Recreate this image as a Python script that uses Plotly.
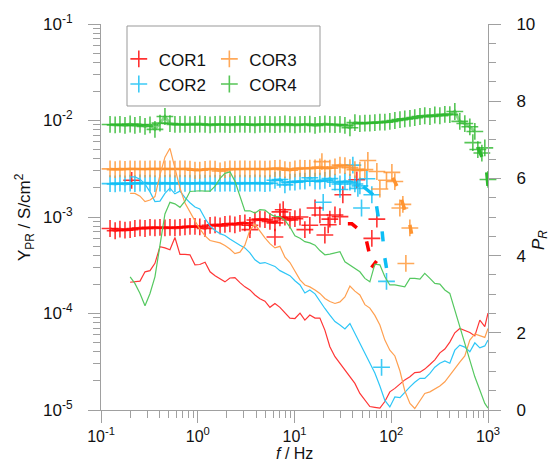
import plotly.graph_objects as go

# Frequency grid (Hz) shared by the measurements
FREQ = [0.124, 0.140, 0.157, 0.177, 0.200, 0.224, 0.253, 0.285, 0.321, 0.361,
        0.407, 0.458, 0.516, 0.581, 0.655, 0.738, 0.831, 0.936, 1.05, 1.19,
        1.34, 1.51, 1.70, 1.91, 2.15, 2.42, 2.73, 3.07, 3.46, 3.90,
        4.39, 4.95, 5.57, 6.28, 7.07, 7.96, 8.97, 10.1, 11.4, 12.8,
        14.4, 16.3, 18.3, 20.6, 23.2, 26.2, 29.5, 33.2, 37.4, 42.1,
        47.4, 53.4, 60.1, 67.7, 76.3, 85.9, 96.7, 109, 123, 138,
        156, 175, 198, 222, 251, 282, 318, 358, 403, 454,
        511, 576, 649, 731, 823, 927, 1000]
FREQ_P = FREQ[4:]  # P_R spectra start at 0.2 Hz

# ---- Y_PR (S/cm2), main runs on the grid ----
COR1_Y = [7.6e-4, 7.2e-4, 7.5e-4, 7.3e-4, 7.4e-4, 7.6e-4, 7.7e-4, 7.6e-4, 7.8e-4, 7.7e-4,
          7.8e-4, 7.7e-4, 7.8e-4, 7.7e-4, 7.8e-4, 7.9e-4, 8.0e-4, 8.0e-4, 7.9e-4, 7.6e-4,
          8.2e-4, 8.3e-4, 8.1e-4, 8.4e-4, 8.5e-4, 8.3e-4, 8.6e-4, 8.7e-4, 8.2e-4, 9.3e-4,
          9.5e-4, 9.4e-4, 9.0e-4, 8.7e-4, 9.8e-4, 1.0e-3, 9.3e-4, 9.6e-4, 1.0e-3]
COR2_Y = [2.22e-3, 2.20e-3, 2.24e-3, 2.20e-3, 2.24e-3, 2.22e-3, 2.25e-3, 2.23e-3, 2.24e-3, 2.22e-3,
          2.24e-3, 2.23e-3, 2.25e-3, 2.22e-3, 2.24e-3, 2.23e-3, 2.24e-3, 2.22e-3, 2.25e-3, 2.24e-3,
          2.22e-3, 2.24e-3, 2.23e-3, 2.24e-3, 2.25e-3, 2.22e-3, 2.24e-3, 2.24e-3, 2.23e-3, 2.25e-3,
          2.24e-3, 2.22e-3, 2.24e-3, 2.40e-3, 2.45e-3, 2.15e-3, 2.30e-3, 2.30e-3, 2.35e-3, 2.35e-3,
          2.55e-3, 2.35e-3, 2.35e-3, 2.40e-3, 2.50e-3, 2.30e-3, 2.20e-3, 2.35e-3, 2.30e-3, 2.20e-3,
          2.10e-3]
COR3_Y = [3.15e-3, 3.10e-3, 3.15e-3, 3.12e-3, 3.16e-3, 3.14e-3, 3.15e-3, 3.13e-3, 3.16e-3, 3.15e-3,
          3.14e-3, 3.16e-3, 3.15e-3, 3.13e-3, 3.15e-3, 3.16e-3, 3.14e-3, 3.05e-3, 3.05e-3, 3.12e-3,
          3.15e-3, 3.14e-3, 3.00e-3, 3.10e-3, 3.15e-3, 3.13e-3, 3.16e-3, 3.15e-3, 3.14e-3, 3.16e-3,
          3.15e-3, 3.13e-3, 3.15e-3, 3.18e-3, 3.20e-3, 3.10e-3, 3.05e-3, 3.15e-3, 3.20e-3, 3.18e-3,
          3.20e-3, 3.22e-3, 3.30e-3, 3.20e-3, 3.20e-3, 3.30e-3, 3.45e-3, 3.40e-3, 3.25e-3, 3.10e-3,
          3.05e-3, 3.10e-3]
COR4_Y = [9.1e-3, 9.0e-3, 9.1e-3, 8.9e-3, 9.2e-3, 8.9e-3, 9.1e-3, 8.7e-3, 9.0e-3, 8.1e-3,
          9.4e-3, 1.10e-2, 9.3e-3, 9.1e-3,
          9.1e-3, 9.15e-3, 9.05e-3, 9.1e-3, 9.2e-3, 9.1e-3, 9.0e-3, 9.1e-3, 9.15e-3, 9.1e-3,
          9.05e-3, 9.1e-3, 9.2e-3, 9.1e-3, 9.1e-3, 9.0e-3, 9.1e-3, 9.15e-3, 9.1e-3, 9.05e-3,
          9.1e-3, 9.2e-3, 9.1e-3, 9.0e-3, 9.1e-3, 9.1e-3, 9.15e-3, 8.9e-3, 9.1e-3, 9.2e-3,
          9.1e-3, 9.05e-3, 9.1e-3,
          8.9e-3, 8.4e-3, 9.5e-3, 9.3e-3, 9.4e-3, 9.4e-3, 9.5e-3, 9.6e-3, 9.6e-3, 9.8e-3,
          1.00e-2, 1.02e-2, 1.04e-2, 1.05e-2, 1.07e-2, 1.10e-2, 1.12e-2, 1.10e-2, 1.14e-2, 1.12e-2,
          1.16e-2, 1.15e-2, 1.24e-2, 9.8e-3, 9.3e-3, 8.6e-3, 7.7e-3]

# ---- Y_PR, scattered repeat points near the cut-off ----
COR1_XF = [0.2075, 3.46, 6.28, 7.07, 7.64, 12.8, 14.4, 16.3, 18.3, 20.6, 22.3, 23.2,
           26.2, 29.5, 31.6, 44.1, 63.0, 71.0]
COR1_XY = [2.4e-3, 7.4e-4, 6.2e-4, 1.13e-3, 1.19e-3, 7.4e-4, 8.2e-4, 1.24e-3, 1.05e-3, 6.5e-4,
           8.3e-4, 9.5e-4, 1.05e-3, 1.01e-3, 1.70e-3, 2.43e-3, 6.0e-4, 9.5e-4]
COR2_XF = [29.5, 40.1, 45.2, 56.0, 63.0, 19.8, 49.3, 89.3, 79.4]
COR2_XY = [1.93e-3, 3.45e-3, 1.98e-3, 2.49e-3, 1.70e-3, 1.42e-3, 1.24e-3, 2.15e-4, 2.77e-5]
COR3_XF = [19.2, 57.3, 71.0, 76.3, 89.3, 101.5, 108.9, 122.7, 131.8, 155.7, 141.6]
COR3_XY = [3.75e-3, 3.85e-3, 2.96e-3, 1.95e-3, 2.4e-3, 2.9e-3, 2.33e-3, 1.24e-3, 1.35e-3,
           7.7e-4, 3.3e-4]
COR4_XF = [697, 785, 864, 927, 1000]
COR4_XY = [5.9e-3, 5.0e-3, 4.6e-3, 5.2e-3, 2.45e-3]

# ---- Y_PR, drop-off segments ----
COR1_DF = [35.6, 39.2, 44.1, None, 55.6, 58.7, None, 62.6, 70.5]
COR1_DY = [8.5e-4, 8.5e-4, 7.7e-4, None, 5.6e-4, 4.4e-4, None, 3.0e-4, 3.5e-4]
COR2_DF = [51.3, 65.0, None, 70.5, 73.3, None, 80.5, 82.4, None, 85.9, 89.3]
COR2_DY = [2.07e-3, 1.70e-3, None, 1.29e-3, 1.01e-3, None, 7.1e-4, 5.6e-4, None, 3.75e-4, 2.96e-4]
COR3_DF = [103.9, 114.3, None, 127.6, 138.2, None, 155.7, 162.2]
COR3_DY = [2.55e-3, 2.1e-3, None, 1.51e-3, 1.19e-3, None, 8.3e-4, 6.7e-4]
COR4_DF = [785, 864, None, 970, 1000]
COR4_DY = [5.3e-3, 4.2e-3, None, 2.9e-3, 2.1e-3]

# ---- P_R spectra ----
COR1_P = [3.31, 3.33, 3.34, 3.58, 3.61, 3.80, 4.23, 4.20, 4.15, 4.47,
          4.03, 4.03, 4.02, 3.76, 3.77, 3.83, 3.58, 3.48, 3.39, 3.32,
          3.42, 3.43, 3.30, 3.19, 3.11, 2.98, 2.88, 2.82, 2.66, 2.76,
          2.66, 2.52, 2.38, 2.37, 2.51, 2.33, 2.46, 2.38, 2.38, 2.07,
          1.64, 1.38, 1.21, 1.04, 0.86, 0.69, 0.43, 0.26, 0.09, 0.07,
          0.05, 0.22, 0.47, 0.56, 0.67, 0.78, 0.86, 0.97, 0.98, 1.06,
          1.18, 1.30, 1.48, 1.58, 1.76, 2.00, 2.11, 2.05, 2.01, 1.92,
          2.33, 2.16, 2.51]
COR2_P = [6.04, 6.04, 5.98, 5.85, 5.65, 5.40, 5.41, 5.61, 5.75, 5.60,
          5.67, 5.50, 5.37, 5.26, 5.21, 4.96, 4.77, 4.65, 4.57, 4.52,
          4.43, 4.34, 4.27, 4.20, 4.07, 3.89, 3.80, 3.82, 3.78, 3.72,
          3.61, 3.54, 3.48, 3.35, 3.24, 3.03, 3.11, 3.01, 2.81, 2.63,
          2.46, 2.29, 2.20, 2.10, 2.24, 1.99, 1.73, 1.47, 1.21, 0.96,
          0.62, 0.25, 0.08, 0.34, 0.32, 0.47, 0.60, 0.72, 0.82, 0.82,
          0.95, 1.11, 1.21, 1.27, 1.21, 1.55, 1.68, 1.63, 1.51, 1.74,
          1.61, 1.66, 1.81]
COR3_P = [5.61, 5.61, 5.54, 5.40, 5.44, 5.53, 6.09, 6.55, 6.78, 6.24,
          5.75, 5.36, 5.12, 4.90, 4.69, 4.51, 4.39, 4.35, 4.33, 4.26,
          4.17, 4.05, 4.09, 4.27, 4.66, 4.81, 4.63, 4.46, 4.31, 4.20,
          4.24, 3.96, 3.82, 3.58, 3.37, 3.24, 3.19, 3.11, 3.02, 2.89,
          2.81, 2.76, 2.80, 2.93, 3.21, 3.08, 2.98, 2.73, 2.64, 2.45,
          2.20, 1.81, 1.55, 1.40, 1.01, 0.50, 0.17, 0.04, 0.26, 0.43,
          0.47, 0.54, 0.62, 0.73, 0.91, 1.09, 1.24, 1.40, 1.81, 1.97,
          1.92, 1.88, 2.11]
COR4_P = [3.45, 3.28, 3.02, 2.70, 3.02, 3.45, 4.27, 5.08, 5.38, 5.34,
          5.25, 5.41, 5.66, 5.68, 5.68, 5.67, 5.67, 5.80, 6.00, 6.13,
          6.17, 5.93, 5.52, 5.16, 5.16, 5.10, 5.19, 5.18, 5.08, 5.01,
          5.01, 4.92, 4.74, 4.51, 4.45, 4.36, 4.33, 4.27, 4.13, 4.02,
          4.04, 4.08, 4.10, 3.84, 3.76, 3.67, 3.58, 3.41, 3.32, 3.78,
          3.76, 3.45, 3.24, 3.24, 3.21, 3.19, 3.41, 3.41, 3.39, 3.54,
          3.41, 3.28, 3.26, 3.11, 3.02, 2.59, 2.16, 1.73, 1.30, 0.86,
          0.52, 0.17, 0.05]

for arr in (COR1_P, COR2_P, COR3_P, COR4_P):
    assert len(arr) == len(FREQ_P), len(arr)

SERIES = [
    # name, marker colour, line colour, Y main, extra f, extra Y, drop f, drop Y, P_R, legend
    ("COR1", "#FF0000", "#FF3535", COR1_Y, COR1_XF, COR1_XY, COR1_DF, COR1_DY, COR1_P, "legend"),
    ("COR2", "#0DBEF5", "#2EC6F7", COR2_Y, COR2_XF, COR2_XY, COR2_DF, COR2_DY, COR2_P, "legend"),
    ("COR3", "#FF9430", "#FFA050", COR3_Y, COR3_XF, COR3_XY, COR3_DF, COR3_DY, COR3_P, "legend2"),
    ("COR4", "#2DB82D", "#55C860", COR4_Y, COR4_XF, COR4_XY, COR4_DF, COR4_DY, COR4_P, "legend2"),
]

FONT = "Liberation Sans, Arial, sans-serif"
AXIS_GREY = "#A0A0A0"

fig = go.Figure()

# P_R spectra (thin lines, right axis)
for name, mcol, lcol, ym, xf, xy, df, dy, pr, lg in SERIES:
    fig.add_trace(go.Scatter(x=FREQ_P, y=pr, mode="lines", yaxis="y2",
                             line=dict(color=lcol, width=1.2), showlegend=False,
                             hoverinfo="skip"))

# Y_PR: thick trend through the main run, drop-off segments and crosses
for name, mcol, lcol, ym, xf, xy, df, dy, pr, lg in SERIES:
    fm = FREQ[:len(ym)]
    fig.add_trace(go.Scatter(x=fm, y=ym, mode="lines", opacity=0.55,
                             line=dict(color=mcol, width=3), showlegend=False,
                             hoverinfo="skip"))
    fig.add_trace(go.Scatter(x=df, y=dy, mode="lines", connectgaps=False,
                             line=dict(color=mcol, width=3.5), showlegend=False,
                             hoverinfo="skip"))
    fig.add_trace(go.Scatter(x=fm + xf, y=ym + xy, mode="markers", name=name,
                             legend=lg, cliponaxis=False,
                             marker=dict(symbol="cross-thin", size=12, opacity=0.8,
                                         line=dict(color=mcol, width=1.6))))

# decade labels written as powers of ten
X_TICKS = [0.1, 1, 10, 100, 1000]
X_TEXT = ["10<sup>-1</sup>", "10<sup>0</sup>", "10<sup>1</sup>", "10<sup>2</sup>", "10<sup>3</sup>"]
Y_TICKS = [1e-5, 1e-4, 1e-3, 1e-2, 1e-1]
Y_TEXT = ["10<sup>-5</sup>", "10<sup>-4</sup>", "10<sup>-3</sup>", "10<sup>-2</sup>", "10<sup>-1</sup>"]
X_MINOR = [m * 10.0 ** e for e in range(-1, 3) for m in range(2, 10)]
Y_MINOR = [m * 10.0 ** e for e in range(-5, -1) for m in range(2, 10)]

axis_common = dict(showgrid=False, zeroline=False, showline=True, linecolor=AXIS_GREY,
                   linewidth=1, ticks="outside", tickcolor=AXIS_GREY, ticklen=12,
                   tickwidth=1)

fig.update_layout(
    width=554, height=461,
    margin=dict(l=101, r=66, t=24, b=51),
    paper_bgcolor="white", plot_bgcolor="white",
    font=dict(family=FONT, size=17, color="#111"),
    xaxis=dict(type="log", range=[-1, 3], tickvals=X_TICKS, ticktext=X_TEXT,
               minor=dict(tickvals=X_MINOR, ticks="outside", ticklen=7,
                          tickcolor=AXIS_GREY, tickwidth=1),
               tickfont=dict(family=FONT, size=16, color="#111"),
               ticklabelstandoff=0, **axis_common),
    yaxis=dict(type="log", range=[-5, -1], tickvals=Y_TICKS, ticktext=Y_TEXT,
               minor=dict(tickvals=Y_MINOR, ticks="outside", ticklen=7,
                          tickcolor=AXIS_GREY, tickwidth=1),
               tickfont=dict(family=FONT, size=17, color="#111"),
               ticklabelstandoff=12, **axis_common),
    yaxis2=dict(overlaying="y", side="right", range=[0, 10], tickvals=[0, 2, 4, 6, 8, 10],
                minor=dict(dtick=0.5, ticks="outside", ticklen=7,
                           tickcolor=AXIS_GREY, tickwidth=1),
                tickfont=dict(family=FONT, size=17, color="#111"),
                ticklabelstandoff=12, **axis_common),
    legend=dict(x=0.046, y=0.955, xanchor="left", yanchor="top", bgcolor="rgba(0,0,0,0)",
                borderwidth=0, font=dict(family=FONT, size=17, color="#111")),
    legend2=dict(x=0.280, y=0.955, xanchor="left", yanchor="top", bgcolor="rgba(0,0,0,0)",
                 borderwidth=0, font=dict(family=FONT, size=17, color="#111")),
    showlegend=True,
)

# legend frame
fig.add_shape(type="rect", xref="paper", yref="paper", x0=0.0672, x1=0.5659,
              y0=0.7876, y1=0.9948, line=dict(color="#999999", width=1), layer="above")

# axis titles
fig.add_annotation(text="Y<sub>PR</sub> / S/cm<sup>2</sup>", xref="paper", yref="paper",
                   x=-0.199, y=0.5, textangle=-90, showarrow=False,
                   xanchor="center", yanchor="middle", font=dict(family=FONT, size=17, color="#111"))
fig.add_annotation(text="<i>f</i> / Hz", xref="paper", yref="paper",
                   x=0.5, y=-0.1135, showarrow=False, xanchor="center", yanchor="middle",
                   font=dict(family=FONT, size=16, color="#111"))
fig.add_annotation(text="<i>P</i><sub><i>R</i></sub>", xref="paper", yref="paper",
                   x=1.134, y=0.44, textangle=-90, showarrow=False,
                   xanchor="center", yanchor="middle", font=dict(family=FONT, size=17, color="#111"))

fig.write_html("out.html")
